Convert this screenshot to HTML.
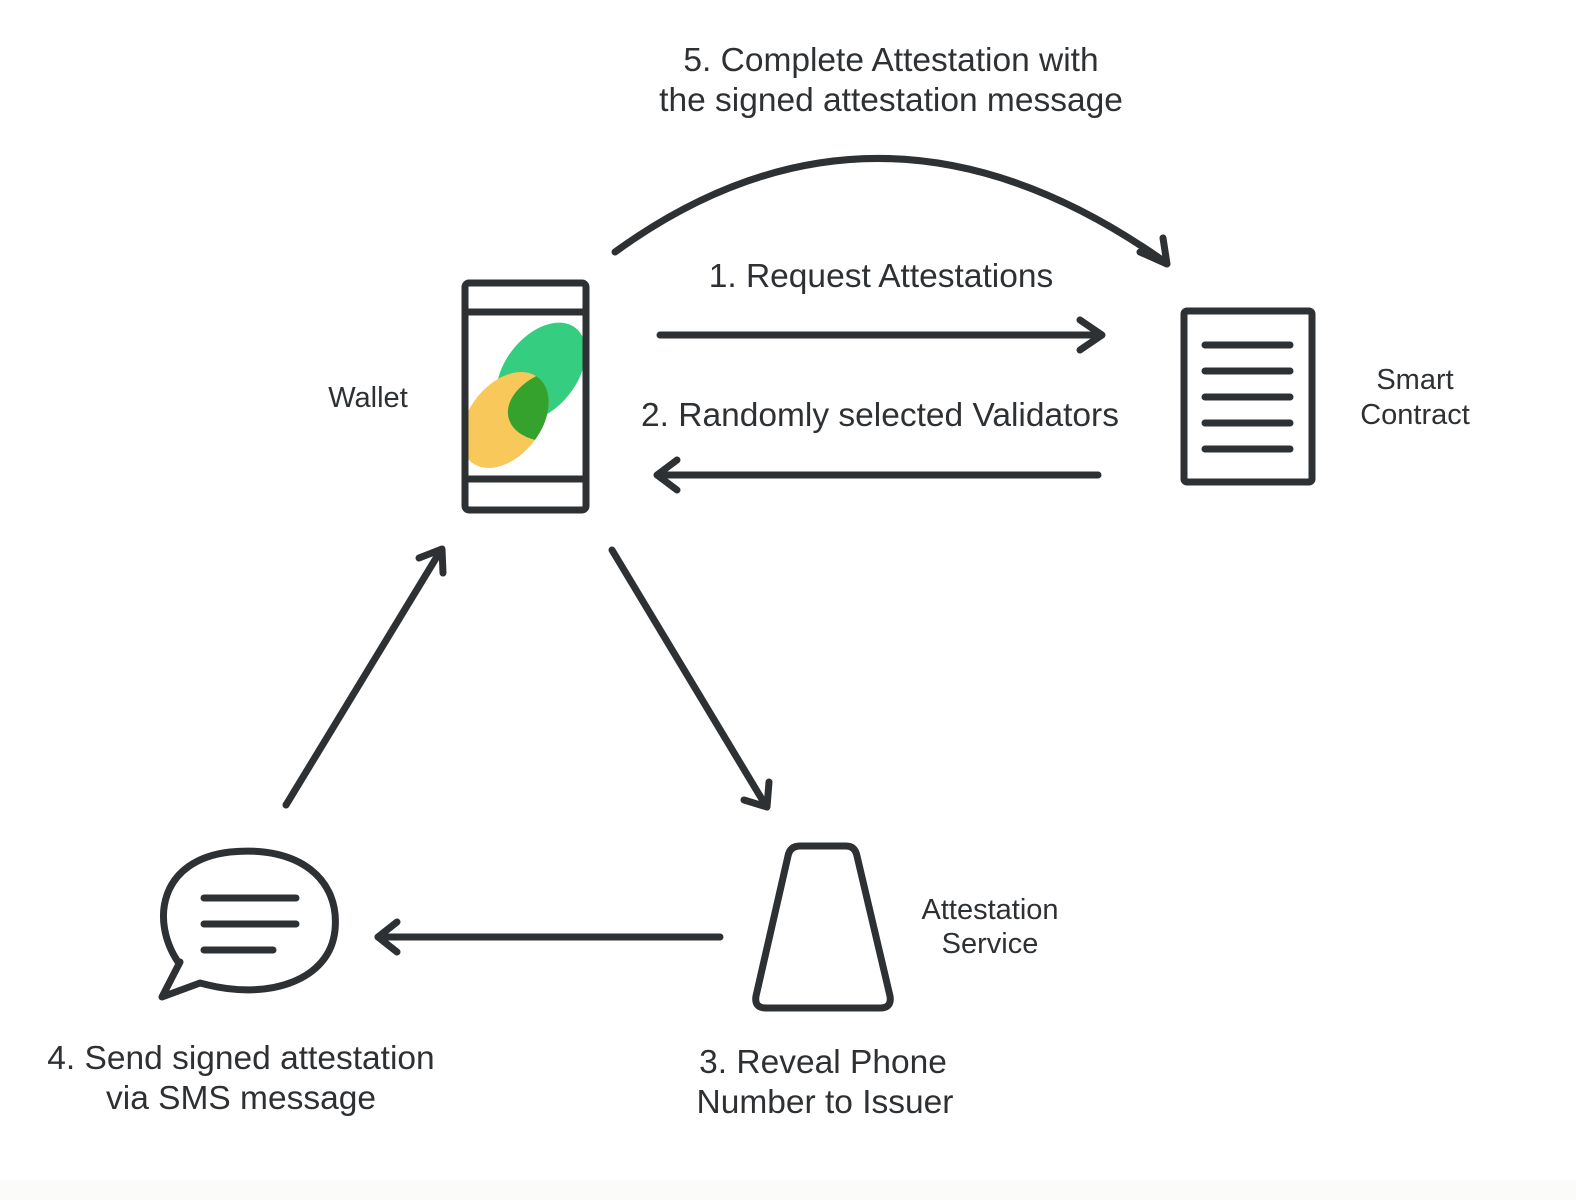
<!DOCTYPE html>
<html><head><meta charset="utf-8"><style>
body{margin:0;background:#fff}
svg{display:block}
text{font-family:"Liberation Sans",sans-serif;fill:#2e3134}
</style></head><body>
<svg width="1576" height="1200" viewBox="0 0 1576 1200" xmlns="http://www.w3.org/2000/svg">
<rect x="0" y="1180" width="1576" height="20" fill="#fbfbfa"/>
<clipPath id="ph"><rect x="468" y="286" width="115" height="221"/></clipPath>
<g clip-path="url(#ph)">
<ellipse cx="541" cy="372" rx="36" ry="56" transform="rotate(38 541 372)" fill="#35cd7f"/>
<ellipse cx="505" cy="420" rx="36" ry="54" transform="rotate(38 505 420)" fill="#f9c85a"/>
<clipPath id="cg"><ellipse cx="541" cy="372" rx="36" ry="56" transform="rotate(38 541 372)"/></clipPath>
<ellipse cx="505" cy="420" rx="36" ry="54" transform="rotate(38 505 420)" fill="#35a22d" clip-path="url(#cg)"/>
</g>
<g fill="none" stroke="#2e3134" stroke-width="7" stroke-linecap="round" stroke-linejoin="round">
<rect x="465" y="283" width="121" height="227" rx="4"/>
<line x1="465" y1="312" x2="586" y2="312"/>
<line x1="465" y1="479" x2="586" y2="479"/>
<!-- contract -->
<rect x="1184" y="311" width="128" height="171" rx="3"/>
<line x1="1205" y1="345" x2="1290" y2="345"/>
<line x1="1205" y1="371" x2="1290" y2="371"/>
<line x1="1205" y1="397" x2="1290" y2="397"/>
<line x1="1205" y1="423" x2="1290" y2="423"/>
<line x1="1205" y1="449" x2="1290" y2="449"/>
<!-- arrows -->
<path d="M615 252 Q880 60 1165 262"/>
<path d="M1140 252 L1167 264 L1163 238"/>
<line x1="660" y1="335" x2="1100" y2="335"/>
<path d="M1080 320 L1102 335 L1080 350"/>
<line x1="658" y1="475" x2="1098" y2="475"/>
<path d="M677 460 L657 475 L677 490"/>
<line x1="612" y1="550" x2="766" y2="806"/>
<path d="M744 800 L767 807 L769 782"/>
<line x1="286" y1="805" x2="441" y2="550"/>
<path d="M419 558 L442 549 L443 573"/>
<line x1="378" y1="937" x2="720" y2="937"/>
<path d="M397 922 L378 937 L397 952"/>
<!-- bubble -->
<path d="M178 962 C150 920 160 860 230 852 C300 845 340 880 335 930 C330 980 270 1000 208 985 L200 983 L162 997 L180 962 Z"/>
<line x1="204" y1="898" x2="296" y2="898"/>
<line x1="204" y1="924" x2="296" y2="924"/>
<line x1="204" y1="950" x2="273" y2="950"/>
<!-- trapezoid -->
<path d="M800 846 L846 846 Q855 846 857 856 L890 996 Q892 1008 880 1008 L766 1008 Q754 1008 756 996 L788 856 Q790 846 800 846 Z"/>
</g>
<g font-size="33.5" text-anchor="middle">
<text x="891" y="71">5. Complete Attestation with</text>
<text x="891" y="111">the signed attestation message</text>
<text x="881" y="287">1. Request Attestations</text>
<text x="880" y="426">2. Randomly selected Validators</text>
<text x="241" y="1069">4. Send signed attestation</text>
<text x="241" y="1109">via SMS message</text>
<text x="823" y="1073">3. Reveal Phone</text>
<text x="825" y="1113">Number to Issuer</text>
</g>
<g font-size="29" text-anchor="middle">
<text x="368" y="407">Wallet</text>
<text x="1415" y="389">Smart</text>
<text x="1415" y="424">Contract</text>
<text x="990" y="919">Attestation</text>
<text x="990" y="953">Service</text>
</g>
</svg>
</body></html>
